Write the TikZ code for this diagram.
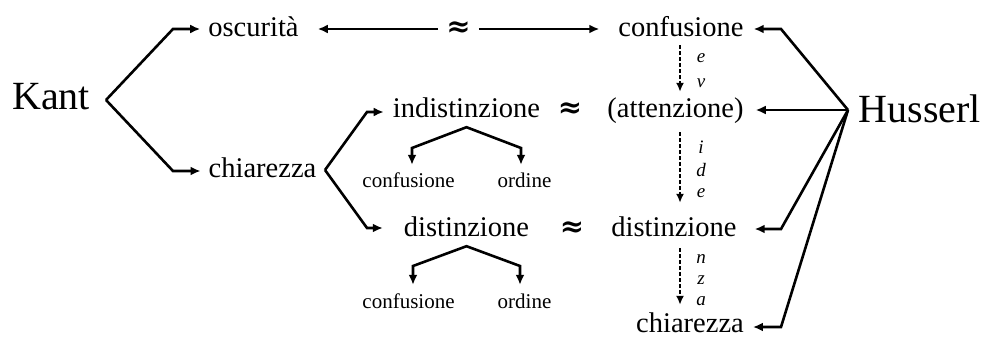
\documentclass[tikz,border=0pt]{standalone}
\usepackage{fontspec}
\setmainfont{Liberation Serif}
\newfontfamily\approxfont{DejaVu Serif}
\usetikzlibrary{arrows.meta}
\tikzset{
  big/.style={font=\fontsize{40}{40}\selectfont, inner sep=0pt, anchor=base},
  mid/.style={font=\fontsize{28.5}{30}\selectfont, inner sep=0pt, anchor=base, text height=19pt, text depth=0pt},
  sml/.style={font=\fontsize{21}{22}\selectfont, inner sep=0pt, anchor=base, text height=14pt, text depth=0pt},
  lbl/.style={font=\fontsize{19}{20}\selectfont\itshape, inner sep=0pt, anchor=base},
  apx/.style={font=\approxfont\bfseries\fontsize{29}{30}\selectfont, inner sep=0pt, anchor=base},
  arr/.style={line width=2.6pt, -{Latex[length=10pt,width=9pt]}},
  arrtwo/.style={line width=2.6pt, {Latex[length=10pt,width=9pt]}-{Latex[length=10pt,width=9pt]}},
  dsh/.style={line width=2.7pt, dash pattern=on 3.5pt off 2.5pt, -{Latex[length=9pt,width=8pt]}}
}
\begin{document}
\begin{tikzpicture}[x=1pt,y=1pt]
\useasboundingbox (0,0) rectangle (985,338);
% nodes
\node[big] (kant) at (51,228) {Kant};
\node[big] (husserl) at (920,215) {Husserl};
\node[mid] (osc) at (253.5,301.5) {oscurità};
\node[apx] (apx1) at (458.5,301.5) {≈};
\node[mid] (conf1) at (681,301.5) {confusione};
\node[mid] (chL) at (262.5,161) {chiarezza};
\node[mid] (indist) at (466.5,220) {indistinzione};
\node[apx] (apx2) at (570,220) {≈};
\node[mid] (att) at (675.5,220) {(attenzione)};
\node[sml] (sconf1) at (408.5,151) {confusione};
\node[sml] (sord1) at (524.5,151) {ordine};
\node[mid] (dist) at (466.5,102) {distinzione};
\node[apx] (apx3) at (572,102) {≈};
\node[mid] (distR) at (674,102) {distinzione};
\node[sml] (sconf2) at (408.5,30) {confusione};
\node[sml] (sord2) at (524.5,30) {ordine};
\node[mid] (chR) at (690,6) {chiarezza};
% italic letters
\node[lbl] (l1) at (701,275) {e};
\node[lbl] (l2) at (701,251) {v};
\node[lbl] (l3) at (701,185) {i};
\node[lbl] (l4) at (701,162) {d};
\node[lbl] (l5) at (701,141) {e};
\node[lbl] (l6) at (701,75) {n};
\node[lbl] (l7) at (701,54) {z};
\node[lbl] (l8) at (701,33) {a};
% coordinates
\coordinate (kv) at (106,238);
\coordinate (ko) at (173,309);
\coordinate (kc) at (173,167);
\coordinate (cv) at (325,168);
\coordinate (ci) at (367,226);
\coordinate (cd) at (367,110);
\coordinate (hv) at (848,228);
\coordinate (hc) at (781,309);
\coordinate (hd) at (781,109);
\coordinate (hch) at (781,11);
\coordinate (t1l) at (412,190);
\coordinate (t1r) at (521,190);
\coordinate (t2l) at (413,72);
\coordinate (t2r) at (520,72);
\coordinate (dx) at (680,0);
\coordinate (row1) at (0,309);
% Kant
\draw[arr, shorten >=8pt] (kv) -- (ko) -- (osc.west |- ko);
\draw[arr, shorten >=8pt] (kv) -- (kc) -- (chL.west |- kc);
% chiarezza
\draw[arr, shorten >=9pt] (cv) -- (ci) -- (indist.west |- ci);
\draw[arr, shorten >=21pt] (cv) -- (cd) -- (dist.west |- cd);
% top row
\draw[arr, shorten <=8pt, shorten >=19pt] (apx1.west |- row1) -- (osc.east |- row1);
\draw[arr, shorten <=8pt, shorten >=19pt] (apx1.east |- row1) -- (conf1.west |- row1);
% trees
\draw[arrtwo, shorten <=8pt, shorten >=8pt] (sconf1.north -| t1l) -- (t1l) -- ([yshift=-9pt]indist.south) -- (t1r) -- (sord1.north -| t1r);
\draw[arrtwo, shorten <=9pt, shorten >=9pt] (sconf2.north -| t2l) -- (t2l) -- ([yshift=-10pt]dist.south) -- (t2r) -- (sord2.north -| t2r);
% dashed
\draw[dsh, shorten <=8.5pt, shorten >=7pt] (conf1.south -| dx) -- (att.north -| dx);
\draw[dsh, shorten <=14pt, shorten >=14pt] (att.south -| dx) -- (distR.north -| dx);
\draw[dsh, shorten <=12pt, shorten >=8pt] (distR.south -| dx) -- (chR.north -| dx);
% Husserl
\draw[arr, shorten >=10pt] (hv) -- (hc) -- (conf1.east |- hc);
\draw[arr, shorten >=12pt] (hv) -- (att.east |- hv);
\draw[arr, shorten >=18pt] (hv) -- (hd) -- (distR.east |- hd);
\draw[arr, shorten >=9pt] (hv) -- (hch) -- (chR.east |- hch);
\end{tikzpicture}
\end{document}
